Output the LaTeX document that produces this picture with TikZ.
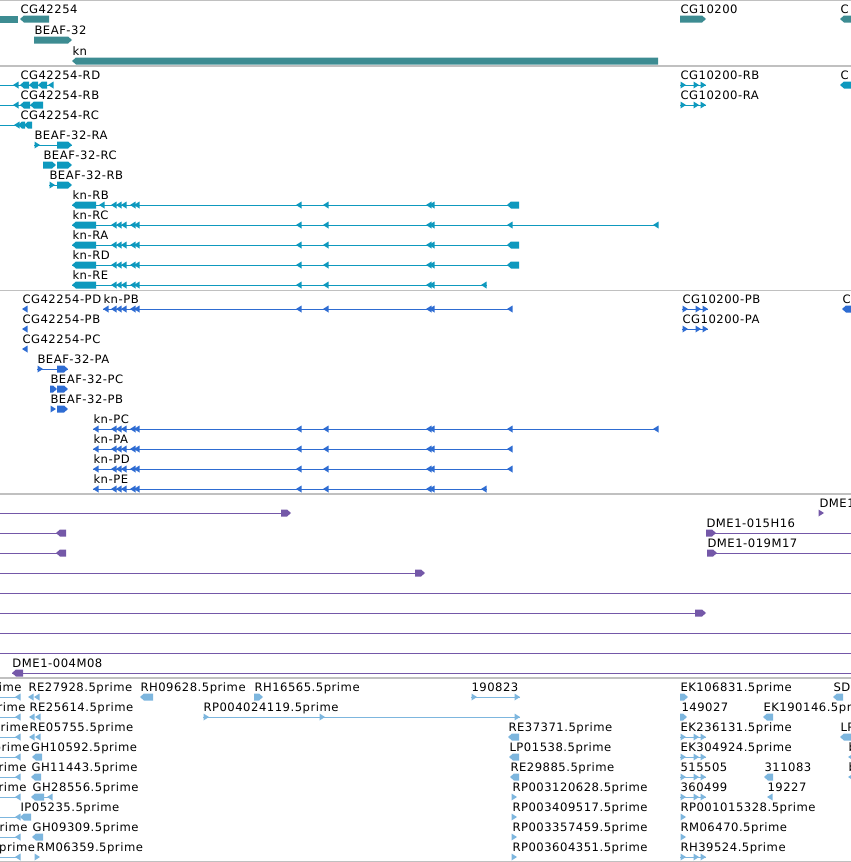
\documentclass[tikz,border=0pt]{standalone}
\usepackage{fontspec}
\setmainfont{DejaVu Sans}[LetterSpace=4.4]
\usepackage{xcolor}
\usepackage{tikz}
\usetikzlibrary{positioning}

\definecolor{gn}{RGB}{61,140,146}
\definecolor{tx}{RGB}{14,153,190}
\definecolor{pr}{RGB}{46,108,210}
\definecolor{cl}{RGB}{116,88,168}
\definecolor{es}{RGB}{125,182,222}
\definecolor{sepgray}{RGB}{192,192,192}

% glyph macros: left/right pointing blocks and tips, x1 x2 y
\newcommand{\lblk}[3]{\fill (#1,#3) -- (#1+4,#3-3.5) -- (#2,#3-3.5) -- (#2,#3+3.5) -- (#1+4,#3+3.5) -- cycle;}
\newcommand{\rblk}[3]{\fill (#2,#3) -- (#2-4,#3-3.5) -- (#1,#3-3.5) -- (#1,#3+3.5) -- (#2-4,#3+3.5) -- cycle;}
\newcommand{\ltip}[2]{\fill (#1,#2) -- (#1+5.5,#2-3.5) -- (#1+5.5,#2+3.5) -- cycle;}
\newcommand{\rtip}[2]{\fill (#1,#2) -- (#1-5.5,#2-3.5) -- (#1-5.5,#2+3.5) -- cycle;}
\newcommand{\intr}[3]{\draw (#1,#3) -- (#2,#3);}
\newcommand{\knexons}[1]{\foreach \kx in {111,116,121,130,134,296,323,426,429} {\ltip{\kx}{#1}}}
\newcommand{\fwdpair}[2]{\intr{#1}{#1+26}{#2}\rtip{#1+6}{#2}\rtip{#1+19}{#2}\rtip{#1+26}{#2}}

\begin{document}
\begin{tikzpicture}[x=1pt, y=-1pt, line width=1pt,
  every node/.style={font=\fontsize{11.6}{13}\selectfont, inner sep=0pt, anchor=base west}]

% Styles
\tikzstyle{lab} = [text=black]
\tikzstyle{lbl} = [lab, anchor=base east]
\tikzstyle{sep} = [draw=sepgray, line width=1.2pt]

\useasboundingbox (0,0) rectangle (851,862);
\clip (0,0) rectangle (851,862);

% Track separators
\foreach \sy in {0.6,66,290.5,494,678,861.4} {\draw[sep] (0,\sy) -- (851,\sy);}

% Genes
\begin{scope}[color=gn]
\fill (0,15.5) rectangle (18,22.5);
\lblk{20}{49}{19}
\rblk{34}{72}{40}
\lblk{72}{658}{61}
\rblk{680}{706}{19}
\lblk{840}{858}{19}
\end{scope}
\node[lab] (cgA) at (20,13) {CG42254};
\node[lab] (beaf) at (34,34) {BEAF-32};
\node[lab] (kn) at (72,55) {kn};
\node[lab] (cgB) at (680,13) {CG10200};
\node[lab] (cgC) at (840,13) {C};

% Transcripts
\begin{scope}[color=tx]
\intr{0}{53}{85}\ltip{13}{85}\lblk{20}{29}{85}\lblk{29}{38}{85}\lblk{38}{47}{85}\ltip{48}{85}
\intr{0}{43}{105}\ltip{13}{105}\lblk{20}{30}{105}\lblk{30}{43}{105}
\intr{0}{32}{125}\ltip{14}{125}\lblk{18}{25}{125}\lblk{24}{32}{125}
\intr{34}{72}{145}\rtip{40}{145}\rblk{57}{72}{145}
\rblk{43}{56}{165}\rblk{57}{72}{165}
\intr{49}{57}{185}\rtip{55}{185}\rblk{57}{72}{185}
\intr{72}{519}{205}\lblk{72}{96}{205}\ltip{99}{205}\knexons{205}\lblk{507}{519}{205}
\intr{72}{658}{225}\lblk{72}{96}{225}\knexons{225}\ltip{507}{225}\ltip{653}{225}
\intr{72}{519}{245}\lblk{72}{96}{245}\knexons{245}\lblk{507}{519}{245}
\intr{72}{519}{265}\lblk{72}{96}{265}\knexons{265}\lblk{507}{519}{265}
\intr{72}{487}{285}\lblk{72}{96}{285}\knexons{285}\ltip{481}{285}
\fwdpair{680}{85}
\fwdpair{680}{105}
\lblk{840}{858}{85}
\end{scope}
\node[lab] (txRD) at (20,79) {CG42254-RD};
\node[lab] (txRB) at (20,99) {CG42254-RB};
\node[lab] (txRC) at (20,119) {CG42254-RC};
\node[lab] (bfRA) at (34,139) {BEAF-32-RA};
\node[lab] (bfRC) at (43,159) {BEAF-32-RC};
\node[lab] (bfRB) at (49,179) {BEAF-32-RB};
\node[lab] (knRB) at (72,199) {kn-RB};
\node[lab] (knRC) at (72,219) {kn-RC};
\node[lab] (knRA) at (72,239) {kn-RA};
\node[lab] (knRD) at (72,259) {kn-RD};
\node[lab] (knRE) at (72,279) {kn-RE};
\node[lab] (cbRB) at (680,79) {CG10200-RB};
\node[lab] (cbRA) at (680,99) {CG10200-RA};
\node[lab] (ccR) at (840,79) {C};

% Proteins
\begin{scope}[color=pr]
\ltip{22}{309}
\intr{103}{512}{309}\ltip{103}{309}\knexons{309}\ltip{507}{309}
\ltip{22}{329}
\ltip{22}{349}
\intr{37}{68}{369}\rtip{43}{369}\rblk{57}{68}{369}
\rblk{50}{57}{389}\rblk{57}{68}{389}
\rtip{56}{409}\rblk{57}{68}{409}
\intr{93}{658}{429}\ltip{93}{429}\knexons{429}\ltip{507}{429}\ltip{653}{429}
\intr{93}{512}{449}\ltip{93}{449}\knexons{449}\ltip{507}{449}
\intr{93}{512}{469}\ltip{93}{469}\knexons{469}\ltip{507}{469}
\intr{93}{487}{489}\ltip{93}{489}\knexons{489}\ltip{481}{489}
\fwdpair{682}{309}
\fwdpair{682}{329}
\lblk{842}{858}{309}
\end{scope}
\node[lab] (pPD) at (22,303) {CG42254-PD};
\node[lab] (knPB) at (103,303) {kn-PB};
\node[lab] (pPB) at (22,323) {CG42254-PB};
\node[lab] (pPC) at (22,343) {CG42254-PC};
\node[lab] (bfPA) at (37,363) {BEAF-32-PA};
\node[lab] (bfPC) at (50,383) {BEAF-32-PC};
\node[lab] (bfPB) at (50,403) {BEAF-32-PB};
\node[lab] (knPC) at (93,423) {kn-PC};
\node[lab] (knPA) at (93,443) {kn-PA};
\node[lab] (knPD) at (93,463) {kn-PD};
\node[lab] (knPE) at (93,483) {kn-PE};
\node[lab] (cbPB) at (682,303) {CG10200-PB};
\node[lab] (cbPA) at (682,323) {CG10200-PA};
\node[lab] (ccP) at (842,303) {C};

% Clones
\begin{scope}[color=cl]
\intr{0}{283}{513}\rblk{281}{291}{513}
\intr{0}{60}{533}\lblk{56}{66}{533}
\intr{0}{60}{553}\lblk{56}{66}{553}
\intr{0}{417}{573}\rblk{415}{425}{573}
\intr{0}{851}{593}
\intr{0}{697}{613}\rblk{695}{706}{613}
\intr{0}{851}{633}
\intr{0}{851}{653}
\intr{12}{851}{673}\lblk{12}{23}{673}
\rtip{824}{513}
\intr{706}{851}{533}\rblk{706}{716}{533}
\intr{707}{851}{553}\rblk{707}{717}{553}
\end{scope}
\node[lab] (dmeA) at (12,667) {DME1-004M08};
\node[lab] (dmeB) at (819,507) {DME1};
\node[lab] (dmeC) at (706,527) {DME1-015H16};
\node[lab] (dmeD) at (707,547) {DME1-019M17};

% ESTs
\begin{scope}[color=es]
\foreach \ey in {697,717,737,757,777,797,817,837,857} {\intr{0}{19}{\ey}\ltip{15}{\ey}}
\ltip{28}{697}\ltip{34}{697}
\ltip{29}{717}\ltip{35}{717}
\ltip{29}{737}\ltip{35}{737}
\lblk{32}{42}{757}
\lblk{31}{41}{777}
\intr{44}{52}{797}\lblk{31}{44}{797}\ltip{47}{797}
\lblk{20}{31}{817}
\lblk{32}{43}{837}
\rtip{40}{857}
\lblk{140}{153}{697}
\rblk{254}{263}{697}
\intr{471}{520}{697}\rtip{477}{697}\rtip{520}{697}
\intr{203}{520}{717}\rtip{209}{717}\rtip{325}{717}\rtip{520}{717}
\lblk{508}{519}{737}
\lblk{509}{519}{757}
\lblk{510}{519}{777}
\foreach \ey in {797,817,837,857} {\rtip{517}{\ey}}
\rblk{680}{688}{697}
\lblk{833}{843}{697}
\rblk{680}{687}{717}
\lblk{763}{773}{717}
\fwdpair{680}{737}
\lblk{840}{858}{737}
\fwdpair{680}{757}
\ltip{848}{757}
\fwdpair{680}{777}
\lblk{764}{773}{777}
\ltip{848}{777}
\fwdpair{680}{797}
\ltip{767}{797}
\rtip{686}{817}
\rtip{686}{837}
\fwdpair{680}{857}
\end{scope}
\node[lbl] (eA) at (22,691) {rime};
\node[lbl] (eB) at (26,711) {rime};
\node[lbl] (eC) at (29,731) {prime};
\node[lbl] (eD) at (30,751) {prime};
\node[lbl] (eE) at (27,771) {prime};
\node[lbl] (eF) at (27,791) {prime};
\node[lbl] (eH) at (28,831) {prime};
\node[lbl] (eI) at (35.5,851) {5prime};
\node[lab] (re279) at (28,691) {RE27928.5prime};
\node[lab] (re256) at (29,711) {RE25614.5prime};
\node[lab] (re057) at (29,731) {RE05755.5prime};
\node[lab] (gh105) at (30.5,751) {GH10592.5prime};
\node[lab] (gh114) at (31,771) {GH11443.5prime};
\node[lab] (gh285) at (32,791) {GH28556.5prime};
\node[lab] (ip052) at (20,811) {IP05235.5prime};
\node[lab] (gh093) at (32,831) {GH09309.5prime};
\node[lab] (rm063) at (36,851) {RM06359.5prime};
\node[lab] (rh096) at (140,691) {RH09628.5prime};
\node[lab] (rh165) at (254,691) {RH16565.5prime};
\node[lab] (n1908) at (471,691) {190823};
\node[lab] (rp0040) at (203,711) {RP004024119.5prime};
\node[lab] (re373) at (508,731) {RE37371.5prime};
\node[lab] (lp015) at (509,751) {LP01538.5prime};
\node[lab] (re298) at (510,771) {RE29885.5prime};
\node[lab] (rp0031) at (512,791) {RP003120628.5prime};
\node[lab] (rp0034) at (512,811) {RP003409517.5prime};
\node[lab] (rp0033) at (512,831) {RP003357459.5prime};
\node[lab] (rp0036) at (512,851) {RP003604351.5prime};
\node[lab] (ek106) at (680,691) {EK106831.5prime};
\node[lab] (sd1) at (833,691) {SD1};
\node[lab] (n1490) at (681,711) {149027};
\node[lab] (ek190) at (763,711) {EK190146.5prime};
\node[lab] (ek236) at (680,731) {EK236131.5prime};
\node[lab] (lpx) at (840,731) {LP};
\node[lab] (ek304) at (680,751) {EK304924.5prime};
\node[lab] (bA) at (848,751) {b};
\node[lab] (n5155) at (680,771) {515505};
\node[lab] (n3110) at (764,771) {311083};
\node[lab] (bB) at (848,771) {b};
\node[lab] (n3604) at (680,791) {360499};
\node[lab] (n1922) at (767,791) {19227};
\node[lab] (rp0010) at (680,811) {RP001015328.5prime};
\node[lab] (rm064) at (680,831) {RM06470.5prime};
\node[lab] (rh395) at (680,851) {RH39524.5prime};

\end{tikzpicture}
\end{document}
